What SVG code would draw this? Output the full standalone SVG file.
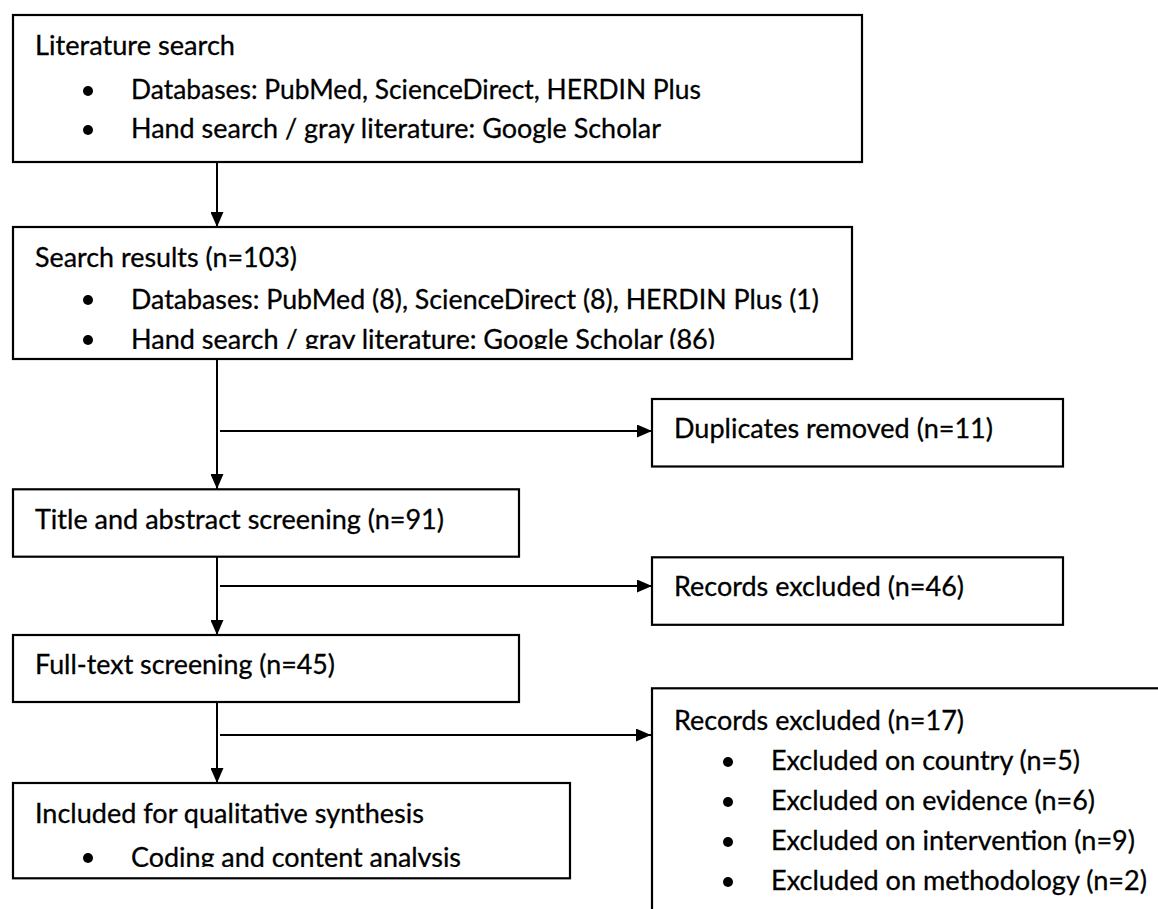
<svg xmlns="http://www.w3.org/2000/svg" width="1158" height="909" viewBox="0 0 1158 909">
<style>
.box{fill:#fff;stroke:#000;stroke-width:2.2}
.t{font-family:Lato,"Open Sans","Liberation Sans",sans-serif;font-size:27px;fill:#000;stroke:#000;stroke-width:0.3}
.ln{stroke:#000;stroke-width:2;fill:none}
.dot{fill:#000}
</style>
<defs>
<marker id="ah" viewBox="0 0 15 13" refX="15" refY="6.5" markerWidth="15" markerHeight="13" markerUnits="userSpaceOnUse" orient="auto">
<path d="M0,0 L15,6.5 L0,13 Z" fill="#000"/>
</marker>
<clipPath id="c2"><rect x="0" y="227" width="900" height="122"/></clipPath>
<clipPath id="c5"><rect x="0" y="783" width="600" height="84"/></clipPath>
</defs>
<rect width="1158" height="909" fill="#fff"/>
<g id="connectors">
<line class="ln" x1="217" y1="162" x2="217" y2="227" marker-end="url(#ah)"/>
<line class="ln" x1="217" y1="359" x2="217" y2="489" marker-end="url(#ah)"/>
<line class="ln" x1="220" y1="431" x2="652" y2="431" marker-end="url(#ah)"/>
<line class="ln" x1="217" y1="557" x2="217" y2="635" marker-end="url(#ah)"/>
<line class="ln" x1="220" y1="586" x2="652" y2="586" marker-end="url(#ah)"/>
<line class="ln" x1="217" y1="702" x2="217" y2="783" marker-end="url(#ah)"/>
<line class="ln" x1="220" y1="735" x2="651" y2="735" marker-end="url(#ah)"/>
</g>
<g id="literature-search">
<rect class="box" x="13" y="15" width="849" height="147"/>
<text class="t" x="35" y="55" textLength="200" lengthAdjust="spacingAndGlyphs">Literature search</text>
<circle class="dot" cx="88" cy="91" r="5"/>
<text class="t" x="131" y="99" textLength="570" lengthAdjust="spacingAndGlyphs">Databases: PubMed, ScienceDirect, HERDIN Plus</text>
<circle class="dot" cx="88" cy="130" r="5"/>
<text class="t" x="131" y="138" textLength="530" lengthAdjust="spacingAndGlyphs">Hand search / gray literature: Google Scholar</text>
</g>
<g id="search-results">
<rect class="box" x="13" y="227" width="839" height="132"/>
<text class="t" x="35" y="267" textLength="262" lengthAdjust="spacingAndGlyphs">Search results (n=103)</text>
<circle class="dot" cx="88" cy="300" r="5"/>
<text class="t" x="131" y="308.5" textLength="688" lengthAdjust="spacingAndGlyphs">Databases: PubMed (8), ScienceDirect (8), HERDIN Plus (1)</text>
<g clip-path="url(#c2)">
<circle class="dot" cx="88" cy="340" r="5"/>
<text class="t" x="131" y="348.5" textLength="584" lengthAdjust="spacingAndGlyphs">Hand search / gray literature: Google Scholar (86)</text>
</g>
</g>
<g id="duplicates-removed">
<rect class="box" x="652" y="399" width="411" height="67.5"/>
<text class="t" x="674" y="438" textLength="319" lengthAdjust="spacingAndGlyphs">Duplicates removed (n=11)</text>
</g>
<g id="title-abstract-screening">
<rect class="box" x="13" y="489.3" width="506" height="67.4"/>
<text class="t" x="35" y="528.5" textLength="409" lengthAdjust="spacingAndGlyphs">Title and abstract screening (n=91)</text>
</g>
<g id="records-excluded-46">
<rect class="box" x="652" y="557.3" width="411" height="67.5"/>
<text class="t" x="674" y="596" textLength="290" lengthAdjust="spacingAndGlyphs">Records excluded (n=46)</text>
</g>
<g id="full-text-screening">
<rect class="box" x="13" y="635" width="506" height="67"/>
<text class="t" x="35" y="673.5" textLength="300" lengthAdjust="spacingAndGlyphs">Full-text screening (n=45)</text>
</g>
<g id="records-excluded-17">
<rect class="box" x="652" y="688.3" width="540" height="260"/>
<text class="t" x="674" y="729.5" textLength="290" lengthAdjust="spacingAndGlyphs">Records excluded (n=17)</text>
<circle class="dot" cx="728" cy="762" r="5"/>
<text class="t" x="771" y="770" textLength="309" lengthAdjust="spacingAndGlyphs">Excluded on country (n=5)</text>
<circle class="dot" cx="728" cy="802" r="5"/>
<text class="t" x="771" y="810" textLength="324" lengthAdjust="spacingAndGlyphs">Excluded on evidence (n=6)</text>
<circle class="dot" cx="728" cy="842" r="5"/>
<text class="t" x="771" y="850" textLength="364" lengthAdjust="spacingAndGlyphs">Excluded on intervention (n=9)</text>
<circle class="dot" cx="728" cy="882" r="5"/>
<text class="t" x="771" y="890" textLength="376" lengthAdjust="spacingAndGlyphs">Excluded on methodology (n=2)</text>
</g>
<g id="included-qualitative-synthesis">
<rect class="box" x="13" y="783" width="557" height="95.3"/>
<text class="t" x="35" y="822.5" textLength="389" lengthAdjust="spacingAndGlyphs">Included for qualitative synthesis</text>
<g clip-path="url(#c5)">
<circle class="dot" cx="88" cy="858" r="5"/>
<text class="t" x="131" y="866.5" textLength="330" lengthAdjust="spacingAndGlyphs">Coding and content analysis</text>
</g>
</g>
</svg>
